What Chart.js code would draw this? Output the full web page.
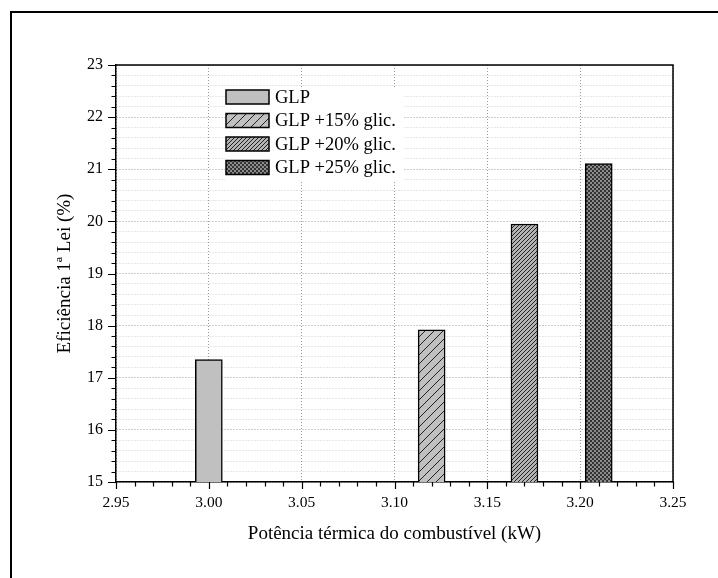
<!DOCTYPE html>
<html>
<head>
<meta charset="utf-8">
<script src="https://cdn.jsdelivr.net/npm/chart.js@4.4.0/dist/chart.umd.min.js"></script>
<style>
    html, body { margin: 0; padding: 0; background: #fff; overflow: hidden; }
    #wrap { position: relative; width: 718px; height: 578px; }
    #chart { position: absolute; left: 0; top: 0; }
    #frame {
        position: absolute; left: 10px; top: 11px; width: 800px; height: 700px;
        border-left: 2px solid #000; border-top: 2px solid #000; pointer-events: none;
    }
</style>
</head>
<body>
<div id="wrap">
    <canvas id="chart" width="718" height="578"></canvas>
    <div id="frame"></div>
</div>
<script>
const seriesLabels = ['GLP', 'GLP +15% glic.', 'GLP +20% glic.', 'GLP +25% glic.'];
const power = [3.00, 3.12, 3.17, 3.21];          // kW
const efficiency = [17.35, 17.92, 19.95, 21.11]; // %
const xRange = [2.95, 3.25];
const yRange = [15, 23];

const serif = '"Liberation Serif", "Times New Roman", serif';

// fill patterns for the bars
function makePattern(kind) {
    if (kind === 'solid') return '#c0c0c0';
    const c = document.createElement('canvas');
    const g = c.getContext('2d');
    if (kind === 'crosshatch') {
        c.width = c.height = 4;
        g.fillStyle = '#333';
        g.fillRect(0, 0, 4, 4);
        g.fillStyle = '#8c8c8c';
        g.fillRect(0, 0, 2, 2);
        g.fillRect(2, 2, 2, 2);
        return g.createPattern(c, 'repeat');
    }
    const s = kind === 'wide' ? 9 : 4;
    c.width = c.height = s;
    g.fillStyle = kind === 'wide' ? '#c0c0c0' : '#b4b4b4';
    g.fillRect(0, 0, s, s);
    g.strokeStyle = '#222';
    g.lineWidth = 1;
    g.beginPath();
    g.moveTo(0, s); g.lineTo(s, 0);
    g.moveTo(-1, 1); g.lineTo(1, -1);
    g.moveTo(s - 1, s + 1); g.lineTo(s + 1, s - 1);
    g.stroke();
    return g.createPattern(c, 'repeat');
}
const fills = ['solid', 'wide', 'dense', 'crosshatch'].map(makePattern);

const isMajorX = v => Math.round(v * 100) % 5 === 0;
const isMajorY = v => Math.abs(v - Math.round(v)) < 1e-6;

// top/right frame of the plot and short minor ticks
const plotFrame = {
    id: 'plotFrame',
    afterDraw(chart) {
        const { ctx, chartArea: a, scales } = chart;
        ctx.save();
        ctx.strokeStyle = '#000';
        ctx.lineWidth = 1.5;
        ctx.beginPath();
        ctx.moveTo(a.left, a.top); ctx.lineTo(a.right, a.top); ctx.lineTo(a.right, a.bottom);
        ctx.stroke();
        ctx.lineWidth = 1.2;
        ctx.beginPath();
        scales.y.ticks.forEach(t => {
            const y = Math.round(scales.y.getPixelForValue(t.value)) + 0.5;
            const len = isMajorY(t.value) ? 8 : 4.5;
            ctx.moveTo(a.left - len, y); ctx.lineTo(a.left, y);
        });
        scales.x.ticks.forEach(t => {
            const x = Math.round(scales.x.getPixelForValue(t.value)) + 0.5;
            const len = isMajorX(t.value) ? 7 : 4.5;
            ctx.moveTo(x, a.bottom); ctx.lineTo(x, a.bottom + len);
        });
        ctx.stroke();
        ctx.restore();
    }
};

// legend drawn inside the plot area
const innerLegend = {
    id: 'innerLegend',
    afterDraw(chart, args, opts) {
        const { ctx, chartArea: a } = chart;
        const ds = chart.data.datasets;
        const x0 = a.left + opts.left, y0 = a.top + opts.top;
        ctx.save();
        ctx.fillStyle = '#fff';
        ctx.fillRect(x0 - 1, y0 - 3, 178, opts.rowGap * ds.length);
        ctx.font = '18.5px ' + serif;
        ctx.textBaseline = 'middle';
        ds.forEach((d, i) => {
            const y = y0 + i * opts.rowGap;
            ctx.fillStyle = d.backgroundColor;
            ctx.fillRect(x0, y, opts.boxW, opts.boxH);
            ctx.strokeStyle = '#000';
            ctx.lineWidth = 1.5;
            ctx.strokeRect(x0, y, opts.boxW, opts.boxH);
            ctx.fillStyle = '#000';
            ctx.fillText(d.label, x0 + opts.boxW + 6, y + opts.boxH / 2 + 1);
        });
        ctx.restore();
    }
};

const ctx = document.getElementById('chart').getContext('2d');
const chart = new Chart(ctx, {
    type: 'bar',
    data: {
        datasets: seriesLabels.map((label, i) => ({
            label: label,
            data: [{ x: power[i], y: efficiency[i] }],
            backgroundColor: fills[i],
            borderColor: '#000',
            borderWidth: 1.5,
            borderSkipped: 'bottom',
            barThickness: 27,
            grouped: false
        }))
    },
    plugins: [plotFrame, innerLegend],
    options: {
        responsive: false,
        animation: false,
        events: [],
        layout: { padding: { left: 0, top: 65, right: 45, bottom: 0 } },
        plugins: {
            legend: { display: false },
            tooltip: { enabled: false },
            innerLegend: { left: 110, top: 25, rowGap: 23.5, boxW: 43, boxH: 14 }
        },
        scales: {
            x: {
                type: 'linear',
                offset: false,
                min: xRange[0],
                max: xRange[1],
                afterFit: s => { s.height = 96; },
                ticks: {
                    stepSize: 0.01,
                    maxTicksLimit: 100,
                    autoSkip: false,
                    maxRotation: 0,
                    padding: 5,
                    color: '#000',
                    font: { family: serif, size: 15.5 },
                    callback: v => isMajorX(v) ? v.toFixed(2) : ''
                },
                grid: {
                    offset: false,
                    color: c => (c.tick && !isMajorX(c.tick.value)) ? 'transparent' : '#9a9a9a',
                    lineWidth: 1,
                    tickLength: 7,
                    tickColor: 'transparent'
                },
                border: { display: true, color: '#000', width: 1.5, dash: [1, 2] },
                title: {
                    display: true,
                    text: 'Potência térmica do combustível (kW)',
                    color: '#000',
                    font: { family: serif, size: 19 },
                    padding: { top: 0, bottom: 33 }
                }
            },
            y: {
                min: yRange[0],
                max: yRange[1],
                afterFit: s => { s.width = 116; },
                ticks: {
                    stepSize: 0.2,
                    maxTicksLimit: 100,
                    autoSkip: false,
                    padding: 6,
                    color: '#000',
                    font: { family: serif, size: 16 },
                    callback: v => isMajorY(v) ? String(Math.round(v)) : ''
                },
                grid: {
                    color: c => (c.tick && !isMajorY(c.tick.value)) ? '#cfcfcf' : '#9a9a9a',
                    lineWidth: 1,
                    tickLength: 7,
                    tickColor: 'transparent'
                },
                border: { display: true, color: '#000', width: 1.5, dash: [1, 2] },
                title: {
                    display: true,
                    text: 'Eficiência 1ª Lei (%)',
                    color: '#000',
                    font: { family: serif, size: 19 },
                    padding: { top: 54, bottom: 0 }
                }
            }
        }
    }
});
</script>
</body>
</html>
